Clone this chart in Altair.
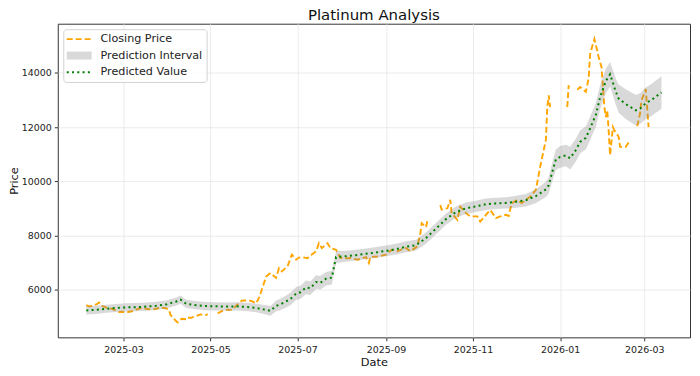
import altair as alt
import pandas as pd

TITLE = "Platinum Analysis"
X_TITLE = "Date"
Y_TITLE = "Price"
SERIES = ["Closing Price", "Prediction Interval", "Predicted Value"]
X_TICKS = ["2025-03", "2025-05", "2025-07", "2025-09", "2025-11", "2026-01", "2026-03"]
Y_TICKS = [6000, 8000, 10000, 12000, 14000]
X_DOMAIN = ["2025-01-14", "2026-04-02"]
Y_DOMAIN = [4235, 15816]

# Closing price (None = no data, the line breaks there)
CLOSE_DATES = [
    "2025-02-03", "2025-02-05", "2025-02-07", "2025-02-10", "2025-02-12", "2025-02-14", "2025-02-17",
    "2025-02-19", "2025-02-21", "2025-02-24", "2025-02-26", "2025-02-28", "2025-03-03", "2025-03-05",
    "2025-03-07", "2025-03-10", "2025-03-12", "2025-03-14", "2025-03-17", "2025-03-19", "2025-03-21",
    "2025-03-24", "2025-03-26", "2025-03-28", "2025-03-31", "2025-04-02", "2025-04-03", "2025-04-07",
    "2025-04-08", "2025-04-09", "2025-04-11", "2025-04-14", "2025-04-15", "2025-04-17", "2025-04-21",
    "2025-04-24", "2025-04-28", "2025-04-29", "2025-05-02", "2025-05-06", "2025-05-09", "2025-05-13",
    "2025-05-16", "2025-05-20", "2025-05-23", "2025-05-27", "2025-05-30", "2025-06-02", "2025-06-04",
    "2025-06-06", "2025-06-09", "2025-06-12", "2025-06-16", "2025-06-18", "2025-06-20", "2025-06-24",
    "2025-06-27", "2025-06-30", "2025-07-02", "2025-07-04", "2025-07-08", "2025-07-11", "2025-07-14",
    "2025-07-16", "2025-07-18", "2025-07-22", "2025-07-24", "2025-07-28", "2025-07-31", "2025-08-04",
    "2025-08-07", "2025-08-12", "2025-08-15", "2025-08-18", "2025-08-20", "2025-08-21", "2025-08-26",
    "2025-08-29", "2025-09-01", "2025-09-05", "2025-09-09", "2025-09-12", "2025-09-15", "2025-09-18",
    "2025-09-23", "2025-09-25", "2025-09-26", "2025-09-29", "2025-09-30", "2025-10-03", "2025-10-09",
    "2025-10-10", "2025-10-14", "2025-10-16", "2025-10-17", "2025-10-21", "2025-10-23", "2025-10-27",
    "2025-10-30", "2025-11-04", "2025-11-06", "2025-11-11", "2025-11-13", "2025-11-17", "2025-11-20",
    "2025-11-24", "2025-11-26", "2025-11-28", "2025-12-02", "2025-12-05", "2025-12-11", "2025-12-15",
    "2025-12-18", "2025-12-22", "2025-12-23", "2025-12-24", "2025-12-25", "2025-12-30", "2026-01-06",
    "2026-01-07", "2026-01-09", "2026-01-13", "2026-01-15", "2026-01-19", "2026-01-21", "2026-01-22",
    "2026-01-25", "2026-01-27", "2026-01-28", "2026-01-30", "2026-01-31", "2026-02-01", "2026-02-02",
    "2026-02-03", "2026-02-04", "2026-02-05", "2026-02-07", "2026-02-08", "2026-02-11", "2026-02-12",
    "2026-02-16", "2026-02-19", "2026-02-21", "2026-02-24", "2026-02-26", "2026-02-27", "2026-03-02",
    "2026-03-03", "2026-03-04",
]
CLOSE_VALUES = [
    5420, 5380, 5390, 5450, 5520, 5400, 5330,
    5300, 5290, 5220, 5170, 5180, 5150, 5180,
    5200, 5260, 5300, 5320, 5290, 5270, 5260,
    5290, 5320, 5330, 5300, 5250, 5060, 4830,
    4790, 4870, 4920, 4900, 4970, 4950, 5020,
    5080, 5060, 5090, None, 5120, 5200, 5260,
    5250, 5450, 5590, 5600, 5570, 5490, 5700,
    6000, 6480, 6610, 6430, 6790, 6670, 6860,
    7290, 7100, 7180, 7200, 7160, 7290, 7410,
    7710, 7530, 7710, 7530, 7470, 7170, 7150,
    7165, 7100, 7150, 7200, 6980, 7200, 7220,
    7250, 7290, 7470, 7410, 7480, 7530, 7410,
    7600, 8050, 8450, 8300, 8550, None, 9120,
    8950, 9000, 9310, 8820, 8570, 9060, 8820,
    8700, 8700, 8510, 8820, 8940, 8640, 8700,
    8760, 8720, 9190, 9310, 9190, 9430, 9680,
    10530, 11520, 12740, 13170, 12740, None, 12740,
    13550, None, 13380, 13480, 13300, 13800, 14700,
    15250, 14820, 14580, 14210, 13480, 12740, 12370,
    12620, 11880, 10960, 12000, 11880, 11640, 11270,
    11270, 11520, None, 12030, 12500, 12985, 13400,
    12680, 12000,
]

# Predicted value and prediction interval
PRED_DATES = [
    "2025-02-03", "2025-02-10", "2025-02-17", "2025-02-24", "2025-03-03", "2025-03-10", "2025-03-17",
    "2025-03-24", "2025-03-31", "2025-04-07", "2025-04-10", "2025-04-14", "2025-04-21", "2025-04-28",
    "2025-05-05", "2025-05-12", "2025-05-19", "2025-05-26", "2025-06-02", "2025-06-09", "2025-06-12",
    "2025-06-16", "2025-06-19", "2025-06-23", "2025-06-26", "2025-06-30", "2025-07-03", "2025-07-07",
    "2025-07-10", "2025-07-14", "2025-07-17", "2025-07-21", "2025-07-25", "2025-07-28", "2025-08-04",
    "2025-08-11", "2025-08-18", "2025-08-25", "2025-09-01", "2025-09-08", "2025-09-15", "2025-09-22",
    "2025-09-29", "2025-10-06", "2025-10-13", "2025-10-20", "2025-10-27", "2025-11-03", "2025-11-10",
    "2025-11-17", "2025-11-24", "2025-12-01", "2025-12-08", "2025-12-15", "2025-12-22", "2025-12-24",
    "2025-12-26", "2025-12-29", "2026-01-01", "2026-01-05", "2026-01-08", "2026-01-12", "2026-01-15",
    "2026-01-19", "2026-01-22", "2026-01-26", "2026-01-29", "2026-02-02", "2026-02-05", "2026-02-09",
    "2026-02-11", "2026-02-16", "2026-02-23", "2026-02-26", "2026-03-02", "2026-03-06", "2026-03-13",
]
PRED_VALUES = [
    5230, 5250, 5290, 5320, 5340, 5350, 5370,
    5400, 5450, 5560, 5630, 5470, 5420, 5390,
    5380, 5370, 5380, 5360, 5320, 5250, 5210,
    5400, 5450, 5560, 5650, 5850, 5900, 6080,
    6050, 6280, 6250, 6400, 6440, 7200, 7230,
    7270, 7320, 7370, 7430, 7490, 7580, 7640,
    7900, 8250, 8600, 8860, 9000, 9070, 9150,
    9180, 9200, 9240, 9300, 9450, 9700, 9850,
    10250, 10800, 10900, 10950, 10850, 11150, 11450,
    11600, 11950, 12450, 13100, 13700, 13950, 13300,
    13050, 12850, 12620, 12680, 12880, 13000, 13280,
]
PRED_LOWER = [
    5080, 5100, 5140, 5170, 5190, 5200, 5220,
    5250, 5300, 5410, 5480, 5320, 5270, 5240,
    5230, 5220, 5230, 5210, 5160, 5080, 5030,
    5200, 5240, 5340, 5420, 5610, 5660, 5830,
    5800, 6030, 6000, 6150, 6190, 6980, 7030,
    7070, 7120, 7170, 7230, 7290, 7380, 7440,
    7690, 8040, 8390, 8650, 8790, 8860, 8940,
    8970, 8990, 9020, 9070, 9200, 9420, 9550,
    9920, 10420, 10500, 10550, 10430, 10730, 11030,
    11170, 11520, 12010, 12660, 13250, 13500, 12820,
    12530, 12300, 12060, 12110, 12300, 12410, 12680,
]
PRED_UPPER = [
    5380, 5400, 5440, 5470, 5490, 5500, 5520,
    5550, 5600, 5710, 5780, 5620, 5570, 5540,
    5530, 5520, 5530, 5510, 5480, 5420, 5390,
    5600, 5660, 5780, 5880, 6090, 6140, 6330,
    6300, 6530, 6500, 6650, 6690, 7420, 7430,
    7470, 7520, 7570, 7630, 7690, 7780, 7840,
    8110, 8460, 8810, 9070, 9210, 9280, 9360,
    9390, 9410, 9460, 9530, 9700, 9980, 10150,
    10580, 11180, 11300, 11350, 11270, 11570, 11870,
    12030, 12380, 12890, 13540, 14150, 14400, 13780,
    13570, 13400, 13180, 13250, 13460, 13590, 13880,
]

ORANGE = "#FFA500"
GREEN = "#008000"
GRAY = "#808080"
FONT = "DejaVu Sans"

# ---- tables built from the arrays ----
seg_ids, seg = [], 0
for v in CLOSE_VALUES:
    if v is None:
        seg += 1
    seg_ids.append(seg)
close_df = pd.DataFrame({"date": CLOSE_DATES, "price": CLOSE_VALUES, "seg": seg_ids})
close_df = close_df[close_df["price"].notna()].copy()
close_df["price"] = close_df["price"].astype(float)

pred_df = pd.DataFrame({"date": PRED_DATES, "pred": PRED_VALUES,
                        "lower": PRED_LOWER, "upper": PRED_UPPER})


def dt(s):
    parts = [int(p) for p in s.split("-")]
    return alt.DateTime(year=parts[0], month=parts[1],
                        date=parts[2] if len(parts) > 2 else 1, utc=True)


x_scale = alt.Scale(type="utc", domain=[dt(X_DOMAIN[0]), dt(X_DOMAIN[1])])
y_scale = alt.Scale(domain=Y_DOMAIN, nice=False, zero=False)
x_axis = alt.Axis(title=X_TITLE, values=[dt(t) for t in X_TICKS], format="%Y-%m",
                  labelPadding=4, titlePadding=2)
y_axis = alt.Axis(title=Y_TITLE, values=Y_TICKS, format="d", labelPadding=3, titlePadding=2)

close_line = alt.Chart(close_df).mark_line(
    color=ORANGE, strokeWidth=1.9, strokeDash=[6, 3]
).encode(
    x=alt.X("date:T", scale=x_scale, axis=x_axis),
    y=alt.Y("price:Q", scale=y_scale, axis=y_axis),
    detail="seg:N",
)

band = alt.Chart(pred_df).mark_area(color=GRAY, opacity=0.3).encode(
    x=alt.X("date:T", scale=x_scale, axis=x_axis),
    y=alt.Y("lower:Q", scale=y_scale, axis=y_axis),
    y2="upper:Q",
)

pred_line = alt.Chart(pred_df).mark_line(
    color=GREEN, strokeWidth=2, strokeDash=[2, 3.3]
).encode(
    x=alt.X("date:T", scale=x_scale, axis=x_axis),
    y=alt.Y("pred:Q", scale=y_scale, axis=y_axis),
)

# ---- legend (upper left, inside the axes) ----
one = pd.DataFrame({"k": [0]})
leg_box = alt.Chart(one).mark_rect(
    fill="white", stroke="#cccccc", strokeWidth=1, cornerRadius=3, opacity=0.85
).encode(x=alt.value(6), x2=alt.value(150), y=alt.value(6), y2=alt.value(59))
leg_close = alt.Chart(one).mark_rule(color=ORANGE, strokeWidth=1.9, strokeDash=[6, 3]).encode(
    x=alt.value(9), x2=alt.value(34), y=alt.value(15.5))
leg_band = alt.Chart(one).mark_rect(color=GRAY, opacity=0.3).encode(
    x=alt.value(9), x2=alt.value(34), y=alt.value(28), y2=alt.value(36))
leg_pred = alt.Chart(one).mark_rule(color=GREEN, strokeWidth=2, strokeDash=[2, 3.3]).encode(
    x=alt.value(9), x2=alt.value(34), y=alt.value(48.7))
leg_texts = [
    alt.Chart(one).mark_text(align="left", baseline="middle", font=FONT, fontSize=11.2,
                             color="#222222").encode(
        x=alt.value(43), y=alt.value(yy), text=alt.value(lbl))
    for lbl, yy in zip(SERIES, [15.5, 32, 48.7])
]

chart = alt.layer(
    close_line, band, pred_line, leg_box, leg_close, leg_band, leg_pred, *leg_texts
).properties(
    width=635,
    height=315,
    title=alt.TitleParams(TITLE, fontSize=15, font=FONT, fontWeight="normal",
                          anchor="middle", offset=1, color="#111111"),
    autosize=alt.AutoSizeParams(type="none"),
    padding={"left": 50, "top": 15, "right": 2, "bottom": 30},
).configure_view(
    stroke="#333333", strokeWidth=1
).configure_axis(
    domain=False,
    grid=True,
    gridColor="#e6e6e6",
    gridWidth=0.8,
    tickColor="#333333",
    tickSize=3.5,
    labelFont=FONT,
    labelFontSize=9.5,
    labelColor="#222222",
    titleFont=FONT,
    titleFontSize=11.4,
    titleFontWeight="normal",
    titleColor="#111111",
)

chart.save("out.html", embed_options={"renderer": "svg", "actions": False})
